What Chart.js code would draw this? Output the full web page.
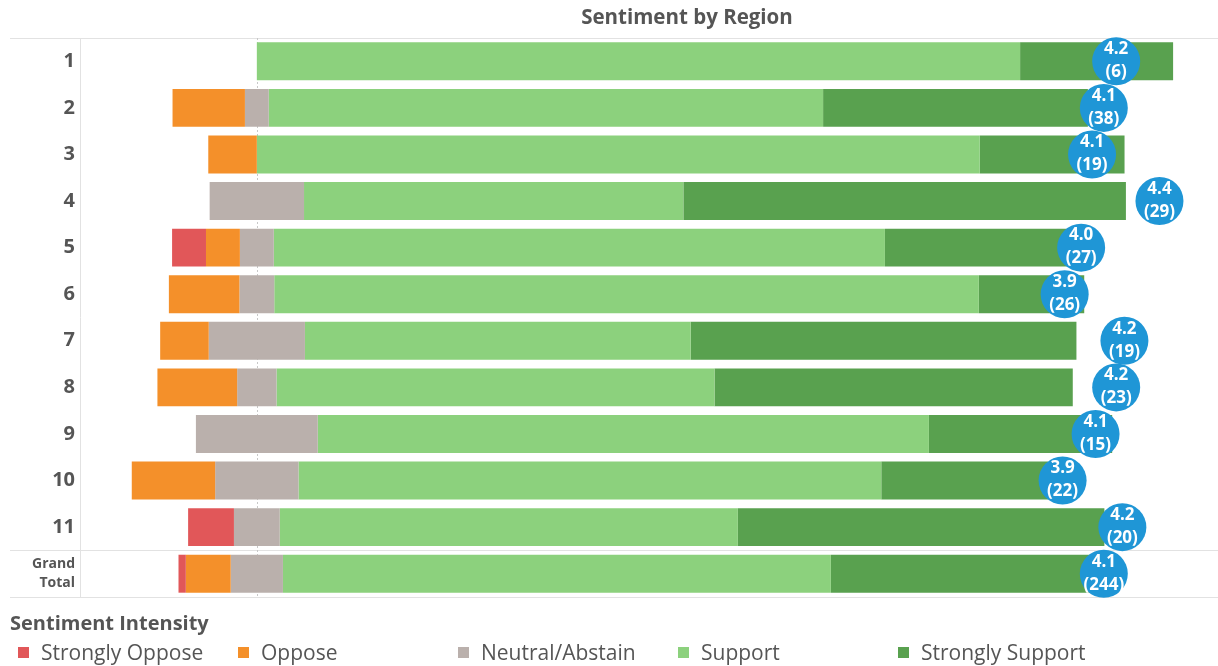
<!DOCTYPE html>
<html>
<head>
<meta charset="utf-8">
<title>Sentiment by Region</title>
<script src="https://cdn.jsdelivr.net/npm/chart.js@4.4.1/dist/chart.umd.min.js"></script>
<style>
  body { margin: 0; background: #fff; font-family: 'Open Sans', sans-serif; color: #555; overflow: hidden; }
  #wrap { position: relative; width: 1218px; height: 666px; }
  #chart { display: block; }
  #title { position: absolute; top: 2px; left: 487px; width: 400px; text-align: center; font-weight: bold; font-size: 20.5px; color: #555; }
  #legend-title { position: absolute; left: 10px; top: 609px; font-weight: bold; font-size: 20px; color: #555; }
  .leg { position: absolute; top: 638px; font-size: 21px; color: #555; white-space: nowrap; }
  .leg i { position: absolute; left: 0; top: 9px; width: 11px; height: 11px; }
  .leg span { position: absolute; left: 23px; top: 0; }
</style>
</head>
<body>
<div id="wrap">
  <canvas id="chart" width="1218" height="666"></canvas>
  <div id="title">Sentiment by Region</div>
  <div id="legend-title">Sentiment Intensity</div>
  <div id="legend"></div>
</div>
<script>
// regions and share of answers (%) per sentiment level
const regions = ['1', '2', '3', '4', '5', '6', '7', '8', '9', '10', '11', 'Grand Total'];
const stronglyOppose = [0, 0, 0, 0, 3.7, 0, 0, 0, 0, 0, 5.0, 0.8];
const oppose         = [0, 7.9, 5.3, 0, 3.7, 7.7, 5.3, 8.7, 0, 9.1, 0, 4.9];
const neutral        = [0, 2.6, 0, 10.3, 3.7, 3.8, 10.5, 4.3, 13.3, 9.1, 5.0, 5.7];
const support        = [83.3, 60.5, 78.9, 41.4, 66.7, 76.9, 42.1, 47.8, 66.7, 63.6, 50.0, 59.8];
const stronglySupport = [16.7, 28.9, 15.8, 48.3, 22.2, 11.5, 42.1, 39.1, 20.0, 18.2, 40.0, 28.7];
// average score (1-5) and number of responses
const avgScore  = [4.17, 4.11, 4.053, 4.38, 4.00, 3.92, 4.21, 4.17, 4.07, 3.91, 4.20, 4.11];
const responses = [6, 38, 19, 29, 27, 26, 19, 23, 15, 22, 20, 244];

const colors = {
  stronglyOppose: '#e15759',
  oppose: '#f4902a',
  neutral: '#bab0ac',
  support: '#8cd17d',
  stronglySupport: '#59a14f',
  bubble: '#1f96d6'
};

// neutral is centred on zero, opposition to the left, support to the right
function segments() {
  const so = [], o = [], n = [], s = [], ss = [];
  regions.forEach((r, i) => {
    const half = neutral[i] / 2;
    n.push([-half, half]);
    o.push([-half - oppose[i], -half]);
    so.push([-half - oppose[i] - stronglyOppose[i], -half - oppose[i]]);
    s.push([half, half + support[i]]);
    ss.push([half + support[i], half + support[i] + stronglySupport[i]]);
  });
  return { so, o, n, s, ss };
}

const seg = segments();

function barSet(label, data, color) {
  return {
    label: label,
    data: data,
    backgroundColor: color,
    borderWidth: 0,
    grouped: false,
    barPercentage: 0.815,
    categoryPercentage: 1,
    xAxisID: 'x',
    yAxisID: 'y'
  };
}

// frame lines, divider and the dashed zero line
const framePlugin = {
  id: 'frame',
  beforeDatasetsDraw(chart) {
    const { ctx, chartArea, scales } = chart;
    const y = scales.y;
    const sep = (y.getPixelForValue(10) + y.getPixelForValue(11)) / 2;
    ctx.save();
    ctx.strokeStyle = '#e2e2e2';
    ctx.lineWidth = 1;
    ctx.beginPath();
    [chartArea.top, sep, chartArea.bottom].forEach(py => {
      ctx.moveTo(10, Math.round(py) + 0.5);
      ctx.lineTo(chartArea.right, Math.round(py) + 0.5);
    });
    ctx.moveTo(chartArea.left + 0.5, chartArea.top);
    ctx.lineTo(chartArea.left + 0.5, chartArea.bottom);
    ctx.stroke();

    const zx = Math.round(scales.x.getPixelForValue(0)) + 0.5;
    ctx.strokeStyle = '#c8c8c8';
    ctx.setLineDash([2, 2]);
    ctx.beginPath();
    ctx.moveTo(zx, chartArea.top);
    ctx.lineTo(zx, chartArea.bottom);
    ctx.stroke();
    ctx.restore();
  }
};

// score and response count inside the blue circles
const bubbleLabels = {
  id: 'bubbleLabels',
  afterDatasetsDraw(chart) {
    const ctx = chart.ctx;
    const meta = chart.getDatasetMeta(5);
    ctx.save();
    ctx.fillStyle = '#fff';
    ctx.font = 'bold 17px "Open Sans"';
    ctx.textAlign = 'center';
    ctx.textBaseline = 'middle';
    meta.data.forEach((pt, i) => {
      ctx.fillText(avgScore[i].toFixed(1), pt.x, pt.y - 12);
      ctx.fillText('(' + responses[i] + ')', pt.x, pt.y + 11);
    });
    ctx.restore();
  }
};

const chart = new Chart(document.getElementById('chart'), {
  type: 'bar',
  data: {
    labels: regions,
    datasets: [
      barSet('Strongly Oppose', seg.so, colors.stronglyOppose),
      barSet('Oppose', seg.o, colors.oppose),
      barSet('Neutral/Abstain', seg.n, colors.neutral),
      barSet('Support', seg.s, colors.support),
      barSet('Strongly Support', seg.ss, colors.stronglySupport),
      {
        type: 'scatter',
        label: 'Average',
        data: regions.map((r, i) => ({ x: avgScore[i], y: r })),
        xAxisID: 'xs',
        yAxisID: 'y',
        backgroundColor: colors.bubble,
        borderWidth: 0,
        pointRadius: 24,
        pointHoverRadius: 24,
        clip: false,
        order: -1
      }
    ]
  },
  options: {
    indexAxis: 'y',
    responsive: false,
    animation: false,
    layout: { autoPadding: false, padding: { top: 38, bottom: 69, left: 0, right: 0 } },
    scales: {
      x: { type: 'linear', min: -19.3, max: 104.9, display: false },
      xs: { type: 'linear', axis: 'x', position: 'bottom', min: -0.857, max: 4.664, display: false },
      y: {
        type: 'category',
        grid: { display: false, drawTicks: false },
        border: { display: false },
        afterFit(scale) { scale.width = 80; },
        ticks: {
          padding: 5,
          color: '#555',
          autoSkip: false,
          font: ctx => ctx.index === 11
            ? { family: 'Open Sans', size: 14, weight: 'bold', lineHeight: 1.4 }
            : { family: 'Open Sans', size: 20, weight: 'bold' },
          callback(value) {
            const l = this.getLabelForValue(value);
            return l.indexOf(' ') > 0 ? l.split(' ') : l;
          }
        }
      }
    },
    plugins: {
      legend: { display: false },
      tooltip: { enabled: false }
    }
  },
  plugins: [framePlugin, bubbleLabels]
});

// legend in fixed columns
const legendEl = document.getElementById('legend');
chart.data.datasets.slice(0, 5).forEach((ds, i) => {
  const item = document.createElement('div');
  item.className = 'leg';
  item.style.left = (18 + i * 220) + 'px';
  item.innerHTML = '<i style="background:' + ds.backgroundColor + '"></i><span>' + ds.label + '</span>';
  legendEl.appendChild(item);
});
</script>
</body>
</html>
